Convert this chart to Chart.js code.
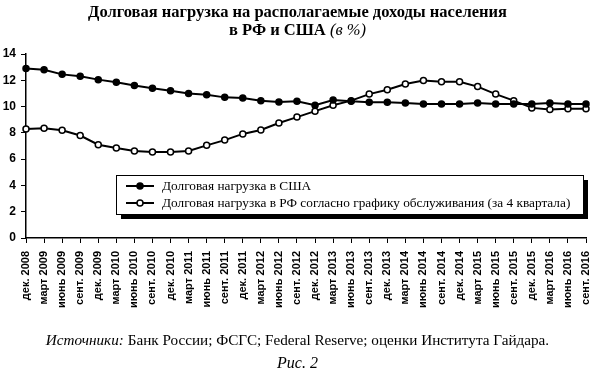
<!DOCTYPE html>
<html>
<head>
<meta charset="utf-8">
<script src="https://cdn.jsdelivr.net/npm/chart.js@4"></script>
<style>
  body { margin: 0; background: #fff; }
  #wrap { position: relative; width: 595px; height: 374px; overflow: hidden; }
  #chart { position: absolute; left: 0; top: 0; }
  .txt { position: absolute; left: 0; width: 595px; text-align: center; color: #000; font-family: "Liberation Serif", serif; }
  #title { top: 3px; font-size: 16.5px; font-weight: bold; line-height: 18px; }
  #title i { font-weight: normal; }
  #src { top: 331px; font-size: 15.2px; }
  #fig { top: 354px; font-size: 16px; font-style: italic; }
</style>
</head>
<body>
<div id="wrap">
  <canvas id="chart" width="595" height="374"></canvas>
  <div class="txt" id="title">Долговая нагрузка на располагаемые доходы населения<br>в РФ и США <i>(в %)</i></div>
  <div class="txt" id="src"><i>Источники:</i> Банк России; ФСГС; Federal Reserve; оценки Института Гайдара.</div>
  <div class="txt" id="fig">Рис. 2</div>
</div>
<script>
  const quarters = [
    "дек. 2008", "март 2009", "июнь 2009", "сент. 2009",
    "дек. 2009", "март 2010", "июнь 2010", "сент. 2010",
    "дек. 2010", "март 2011", "июнь 2011", "сент. 2011",
    "дек. 2011", "март 2012", "июнь 2012", "сент. 2012",
    "дек. 2012", "март 2013", "июнь 2013", "сент. 2013",
    "дек. 2013", "март 2014", "июнь 2014", "сент. 2014",
    "дек. 2014", "март 2015", "июнь 2015", "сент. 2015",
    "дек. 2015", "март 2016", "июнь 2016", "сент. 2016",
  ];

  const usaLoad = [
    12.9, 12.8, 12.45, 12.3, 12.05, 11.85, 11.6, 11.4,
    11.2, 11.0, 10.9, 10.7, 10.65, 10.45, 10.35, 10.4,
    10.1, 10.5, 10.4, 10.33, 10.33, 10.28, 10.2, 10.2,
    10.2, 10.28, 10.2, 10.2, 10.2, 10.28, 10.2, 10.2,
  ];

  const rfLoad = [
    8.3, 8.35, 8.2, 7.8, 7.1, 6.85, 6.62, 6.55,
    6.55, 6.62, 7.05, 7.45, 7.92, 8.22, 8.75, 9.2,
    9.65, 10.1, 10.45, 10.95, 11.28, 11.72, 11.98, 11.88,
    11.88, 11.52, 10.95, 10.45, 9.9, 9.78, 9.83, 9.83,
  ];

  const seriesNames = [
    "Долговая нагрузка в США",
    "Долговая нагрузка в РФ согласно графику обслуживания (за 4 квартала)",
  ];

  const yTicks = [0, 2, 4, 6, 8, 10, 12, 14];

  // legend in a framed box with a black drop shadow
  const boxLegend = {
    id: "boxLegend",
    afterDatasetsDraw(chart) {
      const ctx = chart.ctx;
      const x = 116, y = 175, w = 467, h = 39;
      ctx.save();
      ctx.fillStyle = "#000";
      ctx.fillRect(x + 5, y + 5, w, h);
      ctx.fillStyle = "#fff";
      ctx.fillRect(x, y, w, h);
      ctx.strokeStyle = "#000";
      ctx.lineWidth = 1;
      ctx.strokeRect(x + 0.5, y + 0.5, w, h);
      chart.data.datasets.forEach((ds, i) => {
        const cy = y + 11 + i * 17;
        ctx.beginPath();
        ctx.moveTo(x + 10, cy);
        ctx.lineTo(x + 38, cy);
        ctx.lineWidth = 2;
        ctx.strokeStyle = "#000";
        ctx.stroke();
        ctx.beginPath();
        ctx.arc(x + 24, cy, 3, 0, Math.PI * 2);
        ctx.fillStyle = ds.pointBackgroundColor;
        ctx.fill();
        ctx.lineWidth = 1.5;
        ctx.stroke();
        ctx.fillStyle = "#000";
        ctx.font = "13.3px 'Liberation Serif'";
        ctx.textBaseline = "middle";
        ctx.fillText(ds.label, x + 46, cy + 1);
      });
      ctx.restore();
    },
  };

  new Chart(document.getElementById("chart"), {
    type: "line",
    data: {
      labels: quarters,
      datasets: [
        {
          label: seriesNames[0],
          data: usaLoad,
          borderColor: "#000",
          borderWidth: 2,
          pointRadius: 3,
          pointBackgroundColor: "#000",
          pointBorderColor: "#000",
          pointBorderWidth: 1.5,
          tension: 0,
        },
        {
          label: seriesNames[1],
          data: rfLoad,
          borderColor: "#000",
          borderWidth: 2,
          pointRadius: 3,
          pointBackgroundColor: "#fff",
          pointBorderColor: "#000",
          pointBorderWidth: 1.5,
          tension: 0,
        },
      ],
    },
    options: {
      responsive: false,
      animation: false,
      layout: { padding: { left: 0, right: 9, top: 54, bottom: 62 } },
      plugins: {
        legend: { display: false },
        tooltip: { enabled: false },
      },
      scales: {
        x: {
          afterFit: (s) => { s.height = 74; s.paddingLeft = 0; s.paddingRight = 0; },
          grid: { drawOnChartArea: false, drawTicks: true, tickLength: 5, color: "#000" },
          border: { color: "#000", width: 1.5 },
          ticks: {
            autoSkip: false,
            minRotation: 90,
            maxRotation: 90,
            padding: 8,
            color: "#000",
            font: { family: "Liberation Sans", weight: "bold", size: 11 },
          },
        },
        y: {
          min: yTicks[0],
          max: yTicks[yTicks.length - 1],
          afterBuildTicks: (axis) => { axis.ticks = yTicks.map((v) => ({ value: v })); },
          afterFit: (s) => { s.width = 26; s.paddingTop = 0; s.paddingBottom = 0; },
          grid: { drawOnChartArea: false, drawTicks: true, tickLength: 5, color: "#000" },
          border: { color: "#000", width: 1.5 },
          ticks: {
            padding: 5,
            color: "#000",
            font: { family: "Liberation Sans", weight: "bold", size: 12 },
          },
        },
      },
    },
    plugins: [boxLegend],
  });
</script>
</body>
</html>
